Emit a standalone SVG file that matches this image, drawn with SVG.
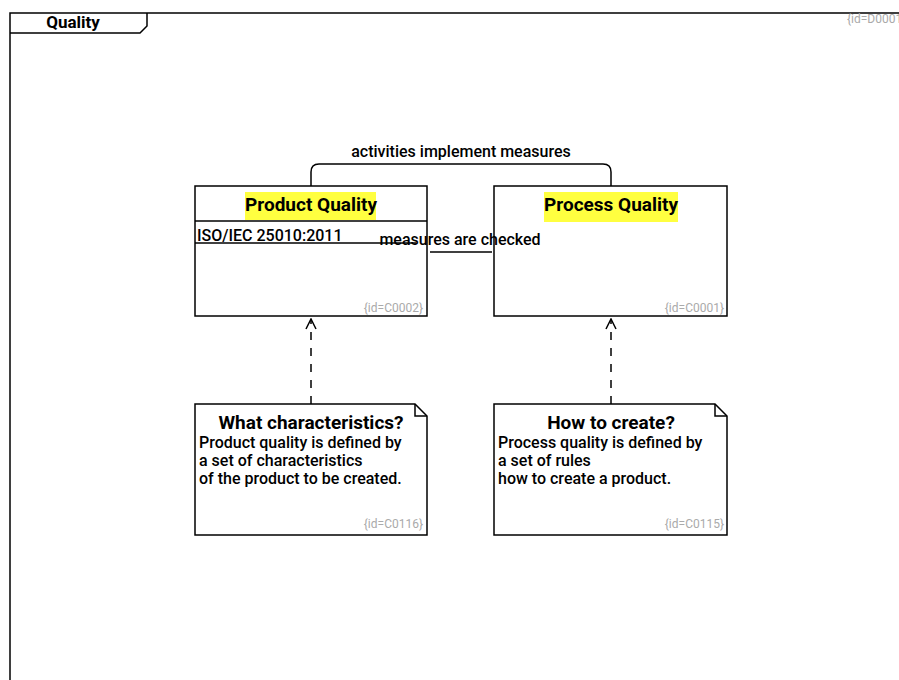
<svg xmlns="http://www.w3.org/2000/svg" width="899" height="680" viewBox="0 0 899 680">
  <style>
    .line { fill: none; stroke: #000; stroke-width: 1.5; }
    .box { fill: #fff; stroke: #000; stroke-width: 1.5; }
    .hl { fill: #ffff40; }
    .title { font-family: Roboto, "Liberation Sans", sans-serif; font-weight: 700; font-size: 19px; fill: #000; }
    .txt { font-family: Roboto, "Liberation Sans", sans-serif; font-weight: 500; font-size: 16px; fill: #000; }
    .id { font-family: Roboto, "Liberation Sans", sans-serif; font-size: 12px; fill: #aaa; }
    .dash { fill: none; stroke: #000; stroke-width: 1.5; stroke-dasharray: 8 8; }
  </style>
  <defs>
    <marker id="open" viewBox="0 0 12 12" refX="11" refY="6" markerWidth="12" markerHeight="12" markerUnits="userSpaceOnUse" orient="auto">
      <path d="M1,1 L11,6 L1,11" fill="none" stroke="#000" stroke-width="1.5"/>
    </marker>
  </defs>
  <rect width="899" height="680" fill="#fff"/>

  <!-- diagram frame with name tab -->
  <g id="frame">
    <rect x="10" y="13" width="1000" height="1000" class="line"/>
    <path d="M10,33 L140,33 L147,26 L147,13" class="line"/>
    <text x="73" y="28" text-anchor="middle" class="title" style="font-size:17px">Quality</text>
    <text x="847" y="23" class="id">{id=D0001}</text>
  </g>

  <!-- class: Product Quality -->
  <g id="C0002">
    <rect x="195" y="186" width="232" height="130" class="box"/>
    <rect x="245" y="192" width="131" height="28" class="hl"/>
    <text x="311" y="211" text-anchor="middle" class="title">Product Quality</text>
    <line x1="195" y1="221" x2="427" y2="221" class="line"/>
    <text x="197" y="241" class="txt">ISO/IEC 25010:2011</text>
    <line x1="195" y1="243" x2="416" y2="243" class="line"/>
    <text x="423" y="312" text-anchor="end" class="id">{id=C0002}</text>
  </g>

  <!-- class: Process Quality -->
  <g id="C0001">
    <rect x="494" y="186" width="233" height="130" class="box"/>
    <rect x="544" y="192" width="134" height="30" class="hl"/>
    <text x="611" y="211" text-anchor="middle" class="title">Process Quality</text>
    <text x="724" y="312" text-anchor="end" class="id">{id=C0001}</text>
  </g>

  <!-- note on product quality -->
  <g id="C0116">
    <path d="M195,404 L415,404 L427,416 L427,535 L195,535 Z" class="box"/>
    <path d="M415,404 L415,416 L427,416" class="line"/>
    <text x="311" y="429" text-anchor="middle" class="title">What characteristics?</text>
    <text x="199" y="448" class="txt">Product quality is defined by</text>
    <text x="199" y="466" class="txt">a set of characteristics</text>
    <text x="199" y="484" class="txt">of the product to be created.</text>
    <text x="423" y="528" text-anchor="end" class="id">{id=C0116}</text>
  </g>

  <!-- note on process quality -->
  <g id="C0115">
    <path d="M494,404 L715,404 L727,416 L727,535 L494,535 Z" class="box"/>
    <path d="M715,404 L715,416 L727,416" class="line"/>
    <text x="611" y="429" text-anchor="middle" class="title">How to create?</text>
    <text x="498" y="448" class="txt">Process quality is defined by</text>
    <text x="498" y="466" class="txt">a set of rules</text>
    <text x="498" y="484" class="txt">how to create a product.</text>
    <text x="724" y="528" text-anchor="end" class="id">{id=C0115}</text>
  </g>

  <!-- connectors, drawn above the boxes -->
  <g id="connectors">
    <path d="M311,186 L311,172 Q311,164 319,164 L603,164 Q611,164 611,172 L611,186" class="line"/>
    <text x="461" y="157" text-anchor="middle" class="txt">activities implement measures</text>
    <line x1="430" y1="252" x2="492" y2="252" class="line"/>
    <text x="460" y="245" text-anchor="middle" class="txt">measures are checked</text>
    <line x1="311" y1="404" x2="311" y2="319" class="dash" marker-end="url(#open)"/>
    <line x1="611" y1="404" x2="611" y2="319" class="dash" marker-end="url(#open)"/>
  </g>
</svg>
